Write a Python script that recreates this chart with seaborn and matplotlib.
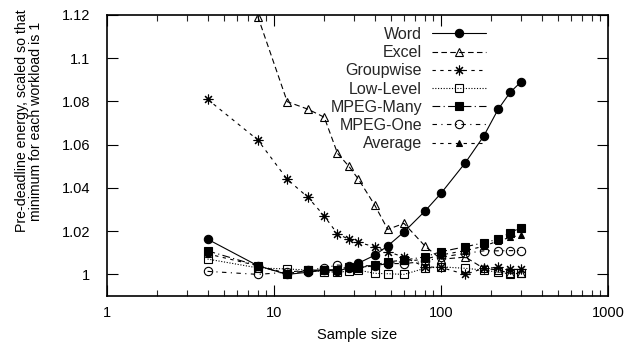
import numpy as np
import pandas as pd
import matplotlib
matplotlib.use("Agg")
import matplotlib.pyplot as plt
import seaborn as sns
from matplotlib.ticker import LogLocator, FixedLocator, NullFormatter

sample_size = [4, 8, 12, 16, 20, 24, 28, 32, 40, 48, 60, 80, 100, 140, 180, 220, 260, 300]

word = [1.0163, 1.0040, 1.0000, 1.0010, 1.0020, 1.0015, 1.0030, 1.0052, 1.0088, 1.0132,
        1.0196, 1.0292, 1.0375, 1.0517, 1.0639, 1.0764, 1.0843, 1.0889]
excel = [np.nan, 1.1193, 1.0799, 1.0764, 1.0727, 1.0560, 1.0501, 1.0441, 1.0322, 1.0208,
         1.0236, 1.0132, 1.0070, 1.0080, 1.0028, 1.0020, 1.0005, 1.0008]
groupwise = [1.0810, 1.0622, 1.0440, 1.0356, 1.0270, 1.0187, 1.0163, 1.0148, 1.0128, 1.0105,
             1.0080, 1.0035, 1.0032, 1.0000, 1.0028, 1.0032, 1.0023, 1.0023]
low_level = [1.0071, 1.0030, 1.0025, 1.0020, 1.0012, 1.0010, 1.0015, 1.0020, 1.0005, 1.0003,
             1.0000, 1.0028, 1.0035, 1.0028, 1.0020, 1.0010, 1.0002, 1.0005]
mpeg_many = [1.0109, 1.0040, 1.0000, 1.0020, 1.0020, 1.0022, 1.0035, 1.0030, 1.0043, 1.0058,
             1.0066, 1.0081, 1.0105, 1.0128, 1.0146, 1.0163, 1.0193, 1.0216]
mpeg_one = [1.0014, 1.0000, 1.0010, 1.0020, 1.0030, 1.0043, 1.0040, 1.0040, 1.0040, 1.0050,
            1.0050, 1.0060, 1.0080, 1.0097, 1.0109, 1.0109, 1.0110, 1.0110]
average = [1.0095, 1.0040, 1.0005, 1.0015, 1.0020, 1.0020, 1.0030, 1.0030, 1.0040, 1.0050,
           1.0060, 1.0070, 1.0090, 1.0110, 1.0130, 1.0155, 1.0171, 1.0182]

series_names = ["Word", "Excel", "Groupwise", "Low-Level", "MPEG-Many", "MPEG-One", "Average"]
series_values = [word, excel, groupwise, low_level, mpeg_many, mpeg_one, average]

y_ticks = [1.0, 1.02, 1.04, 1.06, 1.08, 1.10, 1.12]
y_tick_labels = ["1", "1.02", "1.04", "1.06", "1.08", "1.1", "1.12"]
x_ticks = [1, 10, 100, 1000]
x_tick_labels = ["1", "10", "100", "1000"]

styles = {
    "Word":      dict(marker="o", ms=6, mfc="black", ls="-"),
    "Excel":     dict(marker="^", ms=6, mfc="none", ls=(0, (5, 3))),
    "Groupwise": dict(marker=(8, 2, 0), ms=7, mfc="black", ls=(0, (3, 4))),
    "Low-Level": dict(marker="s", ms=6, mfc="none", ls=(0, (1, 1.5))),
    "MPEG-Many": dict(marker="s", ms=6, mfc="black", ls=(0, (7, 3, 1, 3))),
    "MPEG-One":  dict(marker="o", ms=6, mfc="none", ls=(0, (4, 4, 1, 4))),
    "Average":   dict(marker="^", ms=5, mfc="black", ls=(0, (3, 4))),
}

sns.set_theme(style="ticks")
plt.rcParams["font.family"] = ["Liberation Sans", "DejaVu Sans"]
plt.rcParams["font.size"] = 10

fig = plt.figure(figsize=(6.26, 3.51), dpi=100)
ax = fig.add_axes([107 / 626, 1 - 296 / 351, (608 - 107) / 626, (296 - 15) / 351])

for name, vals in zip(series_names, series_values):
    df = pd.DataFrame({"x": sample_size, "y": vals}).dropna()
    st = styles[name]
    sns.lineplot(data=df, x="x", y="y", ax=ax, color="black", linewidth=0.8,
                 linestyle=st["ls"], marker=st["marker"], markersize=st["ms"],
                 markerfacecolor=st["mfc"], markeredgecolor="black", markeredgewidth=0.8,
                 label=name, errorbar=None, sort=False)

ax.set_xscale("log")
ax.set_xlim(1, 1000)
ax.set_ylim(0.99, 1.12)
ax.xaxis.set_major_locator(FixedLocator(x_ticks))
ax.set_xticklabels(x_tick_labels)
ax.xaxis.set_minor_locator(LogLocator(base=10, subs=np.arange(2, 10)))
ax.xaxis.set_minor_formatter(NullFormatter())
ax.set_yticks(y_ticks)
ax.set_yticklabels(y_tick_labels)

ax.tick_params(axis="both", which="major", direction="in", length=8, width=0.8,
               top=True, right=True, labelsize=10.5, colors="black")
ax.tick_params(axis="y", which="major", pad=12)
ax.tick_params(axis="x", which="major", pad=7)
ax.tick_params(axis="x", which="minor", direction="in", length=4.5, width=0.8, top=True)
ax.tick_params(axis="y", which="minor", left=False, right=False)
for sp in ax.spines.values():
    sp.set_linewidth(1.2)
    sp.set_color("black")
    sp.set_visible(True)

ax.set_xlabel("Sample size", fontsize=10.5, color="black", labelpad=6)
ax.set_ylabel("")
fig.text(0.046, 1 - 121 / 351, "Pre-deadline energy, scaled so that\nminimum for each workload is 1",
         rotation=90, ha="center", va="center", fontsize=10.2, color="black", linespacing=1.0)

leg = ax.legend(loc="upper right", bbox_to_anchor=((486 - 107) / 501, (296 - 27) / 281),
                frameon=False, markerfirst=False, fontsize=11.5, handlelength=3.4,
                handletextpad=0.6, labelspacing=0.2, borderpad=0, borderaxespad=0)

fig.savefig("out.png", dpi=100)
